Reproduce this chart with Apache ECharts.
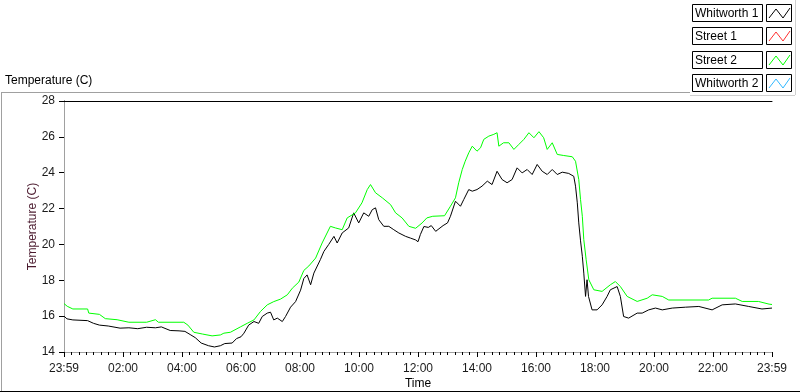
<!DOCTYPE html>
<html>
<head>
<meta charset="utf-8">
<script src="https://cdn.jsdelivr.net/npm/echarts@6/dist/echarts.min.js"></script>
<style>
html,body{margin:0;padding:0;background:#fff;}
#c{width:800px;height:392px;}
</style>
</head>
<body>
<div id="c"></div>
<script>
// ---- data ----
const seriesNames = ['Whitworth 1', 'Street 1', 'Street 2', 'Whitworth 2'];
const seriesColors = ['#000000', '#ff3030', '#00ff00', '#30b8ff'];
const xTickLabels = ['23:59','02:00','04:00','06:00','08:00','10:00','12:00','14:00','16:00','18:00','20:00','22:00','23:59'];
const yTicks = [14, 16, 18, 20, 22, 24, 26, 28];

const whitworth1Hours = [0.0,0.1,0.3,0.8,1.0,1.2,1.5,1.9,2.2,2.5,2.8,3.1,3.3,3.6,3.9,4.1,4.3,4.45,4.65,4.9,5.1,5.3,5.45,5.7,5.85,6.0,6.1,6.26,6.44,6.6,6.72,6.89,7.0,7.11,7.23,7.4,7.51,7.68,7.85,8.02,8.13,8.24,8.36,8.47,8.69,8.81,8.97,9.15,9.26,9.43,9.65,9.82,9.99,10.16,10.33,10.45,10.56,10.67,10.84,11.01,11.18,11.35,11.58,11.75,11.92,12.0,12.08,12.2,12.35,12.45,12.6,12.85,13.0,13.1,13.27,13.44,13.55,13.72,13.84,14.0,14.17,14.35,14.51,14.68,14.85,15.02,15.19,15.36,15.53,15.7,15.87,16.04,16.21,16.38,16.55,16.72,16.89,17.11,17.28,17.34,17.4,17.45,17.51,17.57,17.62,17.68,17.73,17.78,17.9,18.07,18.24,18.41,18.52,18.75,18.86,18.97,19.14,19.43,19.6,19.82,20.05,20.28,20.62,21.07,21.52,21.97,22.31,22.76,23.21,23.66,24.0];
const whitworth1Temps = [16.0,15.85,15.79,15.75,15.6,15.5,15.45,15.33,15.35,15.3,15.38,15.35,15.4,15.2,15.18,15.15,14.95,14.8,14.5,14.35,14.28,14.35,14.47,14.5,14.75,14.85,15.05,15.5,15.7,15.6,15.98,16.17,16.22,15.79,15.89,15.7,15.98,16.5,16.81,17.45,18.1,18.3,17.75,18.4,19.15,19.61,19.99,20.45,20.08,20.64,20.92,21.76,21.2,21.76,21.57,21.94,22.04,21.38,21.01,21.01,20.82,20.64,20.45,20.35,20.25,20.15,20.55,21.0,20.95,21.05,20.73,21.05,21.2,21.57,22.41,22.13,22.5,23.06,22.97,23.06,23.25,23.53,23.34,24.08,23.62,23.44,23.62,24.27,23.99,24.18,23.9,24.46,24.08,23.9,24.18,23.9,24.03,23.96,23.8,23.25,22.32,21.2,20.2,19.34,18.4,17.1,18.03,17.1,16.35,16.35,16.63,17.1,17.47,17.65,17.1,15.98,15.89,16.17,16.17,16.35,16.45,16.35,16.45,16.5,16.54,16.35,16.63,16.68,16.54,16.4,16.45];

const street1Hours = [];
const street1Temps = [];

const street2Hours = [0.0,0.11,0.3,0.8,0.84,1.2,1.4,1.8,2.2,2.8,3.1,3.2,4.06,4.2,4.4,4.7,5.02,5.3,5.42,5.64,5.98,6.21,6.44,6.66,6.89,7.11,7.34,7.57,7.74,7.96,8.13,8.3,8.53,8.75,9.03,9.2,9.43,9.6,9.88,10.1,10.28,10.39,10.56,10.79,11.07,11.24,11.46,11.69,11.92,12.14,12.3,12.5,12.9,13.1,13.27,13.38,13.5,13.6,13.72,13.84,14.0,14.12,14.23,14.4,14.57,14.68,14.74,14.9,15.08,15.25,15.42,15.59,15.76,15.93,16.1,16.26,16.38,16.55,16.72,16.94,17.23,17.34,17.45,17.51,17.57,17.62,17.7,17.79,17.96,18.24,18.52,18.69,18.86,19.09,19.43,19.77,19.94,20.28,20.5,21.85,21.97,22.76,22.99,23.54,23.9,24.0];
const street2Temps = [16.7,16.55,16.4,16.4,16.17,16.1,15.86,15.8,15.66,15.66,15.8,15.66,15.66,15.5,15.1,15.0,14.9,14.95,15.05,15.1,15.4,15.6,15.79,16.26,16.63,16.81,16.95,17.19,17.56,17.9,18.55,18.8,19.24,20.08,21.01,20.92,20.82,21.48,21.76,22.32,23.06,23.34,22.88,22.6,22.22,21.76,21.48,21.01,20.9,21.2,21.48,21.57,21.6,22.13,22.6,23.44,24.18,24.64,25.11,25.48,25.2,25.39,25.86,26.04,26.14,26.23,25.48,25.67,25.67,25.3,25.58,25.86,26.23,25.95,26.29,25.95,25.3,25.67,25.02,24.96,24.89,24.64,23.62,22.5,21.57,20.27,19.15,18.03,17.47,17.38,17.75,17.93,17.65,17.1,16.82,17.0,17.19,17.1,16.9,16.9,17.0,17.0,16.82,16.82,16.67,16.65];

const whitworth2Hours = [];
const whitworth2Temps = [];

// ---- build ----
const hoursList = [whitworth1Hours, street1Hours, street2Hours, whitworth2Hours];
const tempsList = [whitworth1Temps, street1Temps, street2Temps, whitworth2Temps];
const FONT = 'Liberation Sans';
const chart = echarts.init(document.getElementById('c'), null, {renderer: 'canvas'});

const series = seriesNames.map((name, i) => ({
  name: name,
  type: 'line',
  showSymbol: false,
  symbol: 'none',
  animation: false,
  xAxisIndex: 0,
  yAxisIndex: 0,
  lineStyle: {color: seriesColors[i], width: 1},
  itemStyle: {color: seriesColors[i]},
  data: hoursList[i].map((h, k) => [h, tempsList[i][k]]),
  z: i === 2 ? 3 : 2
}));

// custom legend (LabVIEW-style boxes)
const legendGraphics = [];
seriesNames.forEach((name, i) => {
  const t = Math.round(4 + i * 23.3);
  legendGraphics.push({type: 'rect', shape: {x: 692.5, y: t + 0.5, width: 70, height: 17},
    style: {fill: '#fff', stroke: '#000', lineWidth: 1}, silent: true});
  legendGraphics.push({type: 'rect', shape: {x: 766.5, y: t + 0.5, width: 25, height: 17},
    style: {fill: '#fff', stroke: '#000', lineWidth: 1}, silent: true});
  legendGraphics.push({type: 'text', x: 695, y: t + 9.5,
    style: {text: name, font: '12px ' + FONT, fill: '#000', textVerticalAlign: 'middle', verticalAlign: 'middle'}, silent: true});
  legendGraphics.push({type: 'polyline', shape: {points: [[769, t + 14], [776, t + 5], [783, t + 14], [790, t + 4]]},
    style: {stroke: seriesColors[i], lineWidth: 1, fill: null}, silent: true});
});

const frameGraphics = [
  {type: 'line', shape: {x1: 2, y1: 92.5, x2: 690, y2: 92.5}, style: {stroke: '#a0a0a0', lineWidth: 1}, silent: true},
  {type: 'line', shape: {x1: 1.5, y1: 92, x2: 1.5, y2: 391}, style: {stroke: '#a0a0a0', lineWidth: 1}, silent: true},
  {type: 'line', shape: {x1: 0, y1: 391.5, x2: 800, y2: 391.5}, style: {stroke: '#000', lineWidth: 1}, silent: true},
  {type: 'line', shape: {x1: 690, y1: 95.5, x2: 795, y2: 95.5}, style: {stroke: '#d0d0d0', lineWidth: 1}, silent: true},
  {type: 'line', shape: {x1: 795.5, y1: 0, x2: 795.5, y2: 95}, style: {stroke: '#d0d0d0', lineWidth: 1}, silent: true},
  {type: 'text', x: 5, y: 81, style: {text: 'Temperature (C)', font: '12px ' + FONT, fill: '#000', verticalAlign: 'middle', textVerticalAlign: 'middle'}, silent: true}
];

const option = {
  animation: false,
  backgroundColor: '#ffffff',
  grid: {left: 64, right: 28, top: 101, bottom: 40, containLabel: false, outerBoundsMode: 'none'},
  xAxis: [{
    type: 'value', min: 0, max: 24, interval: 2, position: 'bottom',
    name: 'Time', nameLocation: 'middle', nameGap: 26, nameMoveOverlap: false,
    nameTextStyle: {fontFamily: FONT, fontSize: 12, color: '#000'},
    axisLine: {show: true, lineStyle: {color: '#a0a0a0', width: 1}},
    axisTick: {show: true, length: 5, inside: false, lineStyle: {color: '#000'}},
    minorTick: {show: true, splitNumber: 8, length: 3, lineStyle: {color: '#000'}},
    splitLine: {show: false},
    axisLabel: {show: true, margin: 11, fontFamily: FONT, fontSize: 12, color: '#1a1a1a',
      showMinLabel: true, showMaxLabel: true, hideOverlap: false,
      formatter: v => xTickLabels[Math.round(v / 2)]}
  }, {
    type: 'value', min: 0, max: 24, position: 'top', gridIndex: 0,
    axisLine: {show: true, lineStyle: {color: '#000', width: 1}},
    axisTick: {show: false}, axisLabel: {show: false}, splitLine: {show: false}
  }],
  yAxis: [{
    type: 'value', min: yTicks[0], max: yTicks[yTicks.length - 1], interval: 2, position: 'left',
    name: 'Temperature (C)', nameLocation: 'middle', nameGap: 25, nameRotate: 90, nameMoveOverlap: false,
    nameTextStyle: {fontFamily: FONT, fontSize: 12, color: '#4b1a2e'},
    axisLine: {show: true, lineStyle: {color: '#000', width: 1}},
    axisTick: {show: true, length: 5, inside: false, lineStyle: {color: '#000'}},
    splitLine: {show: false},
    axisLabel: {show: true, margin: 9, fontFamily: FONT, fontSize: 12, color: '#1a1a1a'}
  }, {
    type: 'value', min: yTicks[0], max: yTicks[yTicks.length - 1], position: 'right',
    axisLine: {show: true, lineStyle: {color: '#a0a0a0', width: 1}},
    axisTick: {show: false}, axisLabel: {show: false}, splitLine: {show: false}
  }],
  series: series,
  graphic: frameGraphics.concat(legendGraphics)
};
chart.setOption(option);
</script>
</body>
</html>
